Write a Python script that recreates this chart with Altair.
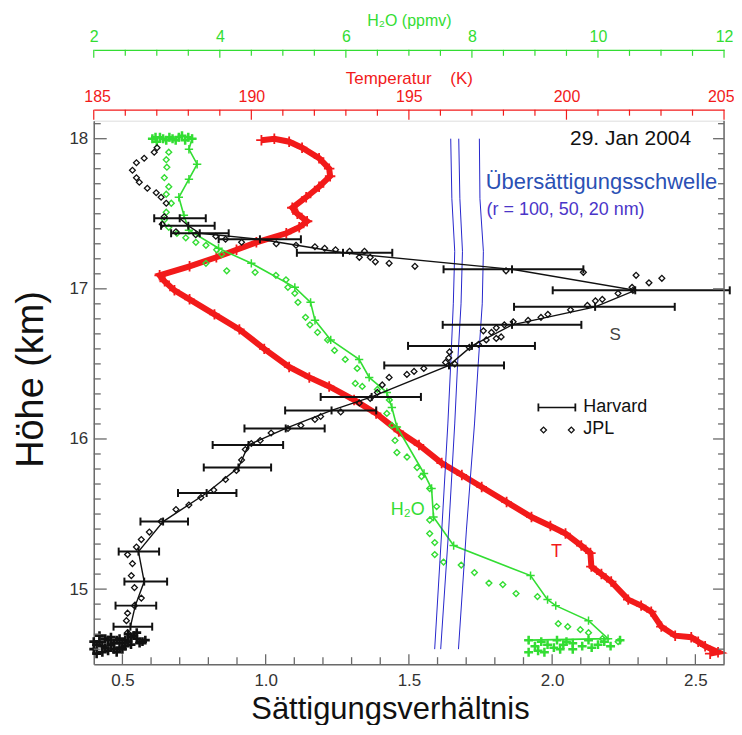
import altair as alt
import pandas as pd

W, H = 632, 545
FONT = "Liberation Sans"
RED = "#f21a1a"
GREEN = "#33dd33"
BLACK = "#111111"
GRAY = "#6a6a6a"
BLUE = "#2626cc"
PLUS = "M-1,0L1,0M0,-1L0,1"
VBAR = "M0,-1L0,1"

# ---------------- data ----------------
# JPL saturation ratio (S, km)
jpl_sat = [(0.621,17.94),(0.611,17.91),(0.576,17.87),(0.549,17.84),(0.535,17.79),(0.549,17.74),
           (0.559,17.71),(0.587,17.67),(0.618,17.64),(0.635,17.61),(0.653,17.57),(0.646,17.48),
           (0.639,17.43),(0.687,17.38),(0.756,17.36),(0.826,17.35),(0.860,17.33),(0.916,17.31),
           (1.037,17.30),(1.106,17.29),(1.172,17.28),(1.206,17.27),(1.244,17.26),(1.293,17.25),
           (1.345,17.25),(1.327,17.21),(1.365,17.21),(1.383,17.18),(1.431,17.17),(1.521,17.15),
           (1.839,17.12),(2.109,17.11),(2.293,17.09),(2.338,17.04),(2.383,17.07),(2.279,17.01),
           (2.282,16.99),(2.230,16.97),(2.175,16.93),(2.151,16.92),(2.123,16.89),(2.064,16.86),
           (1.985,16.83),(1.961,16.81),(1.916,16.79),(1.864,16.78),(1.833,16.76),(1.805,16.74),
           (1.788,16.71),(1.760,16.72),(1.822,16.68),(1.805,16.67),(1.770,16.66),(1.743,16.63),
           (1.711,16.61),(1.642,16.58),(1.639,16.54),(1.628,16.51),(1.660,16.50),(1.552,16.47),
           (1.518,16.45),(1.493,16.43),(1.431,16.41),(1.407,16.36),(1.390,16.31),(1.365,16.27),
           (1.327,16.24),(1.262,16.18),(1.192,16.15),(1.172,16.13),(1.123,16.09),(1.078,16.07),
           (1.019,16.04),(0.981,15.99),(0.950,15.97),(0.929,15.93),(0.916,15.86),(0.898,15.79),
           (0.860,15.73),(0.819,15.66),(0.774,15.61),(0.732,15.56),(0.687,15.53),(0.635,15.45),
           (0.594,15.38),(0.566,15.33),(0.549,15.28),(0.518,15.23),(0.535,15.17),(0.531,15.09),
           (0.542,15.01),(0.566,14.94),(0.542,14.89),(0.518,14.84),(0.514,14.79),(0.518,14.71)]

# Harvard saturation ratio (center, km, low, high)
harvard_sat = [(0.70,17.47,0.611,0.791),(0.73,17.42,0.635,0.822),(0.77,17.37,0.670,0.871),
               (0.98,17.33,0.836,1.123),(1.27,17.24,1.109,1.442),(1.86,17.13,1.621,2.109),
               (2.29,16.99,2.002,2.62),(2.15,16.88,1.867,2.428),(1.86,16.76,1.618,2.102),
               (1.72,16.62,1.497,1.940),(1.64,16.49,1.414,1.832),(1.37,16.28,1.192,1.542),
               (1.23,16.19,1.068,1.386),(1.07,16.07,0.926,1.206),(0.94,15.96,0.815,1.061),
               (0.905,15.81,0.784,1.019),(0.794,15.64,0.694,0.898),(0.642,15.45,0.563,0.729),
               (0.556,15.25,0.487,0.628),(0.576,15.05,0.507,0.656),(0.545,14.89,0.476,0.618),
               (0.528,14.75,0.469,0.604)]

# dense Harvard samples at the bottom of the profile (S, km)
harvard_bottom = [(0.41,14.57),(0.43,14.62),(0.45,14.59),(0.47,14.64),(0.49,14.61),(0.51,14.66),
                  (0.53,14.63),(0.55,14.67),(0.57,14.65),(0.52,14.70),(0.44,14.67),(0.42,14.65),
                  (0.46,14.68),(0.48,14.58),(0.50,14.64),(0.54,14.69),(0.40,14.60),(0.58,14.66),
                  (0.41,14.63),(0.43,14.58),(0.45,14.66),(0.47,14.60),(0.49,14.67),(0.51,14.62),
                  (0.53,14.68),(0.42,14.69),(0.44,14.61),(0.46,14.63),(0.48,14.66),(0.50,14.60),
                  (0.40,14.65),(0.52,14.65),(0.56,14.64),(0.55,14.71)]

# supersaturation thresholds (S, km) for r = 100, 50, 20 nm
thr_100 = [(1.646,18.0),(1.650,17.6),(1.660,17.25),(1.655,16.9),(1.646,16.5),(1.636,16.1),(1.615,15.4),(1.590,14.6)]
thr_50 = [(1.674,18.0),(1.678,17.6),(1.687,17.25),(1.682,16.9),(1.670,16.5),(1.660,16.1),(1.639,15.4),(1.611,14.6)]
thr_20 = [(1.746,18.0),(1.748,17.6),(1.760,17.25),(1.756,16.9),(1.742,16.5),(1.729,16.1),(1.701,15.4),(1.673,14.6)]

# temperature (K, km)
temperature = [(190.32,17.99),(190.73,18.00),(191.20,17.98),(191.61,17.94),(192.15,17.87),(192.47,17.80),
               (192.50,17.75),(192.15,17.68),(191.74,17.61),(191.30,17.54),(191.46,17.50),(191.77,17.45),
               (191.52,17.41),(191.11,17.37),(190.16,17.31),(189.53,17.26),(188.89,17.21),(188.04,17.15),
               (187.09,17.09),(187.25,17.05),(187.56,16.99),(188.04,16.93),(188.83,16.83),(189.62,16.73),
               (190.41,16.60),(191.20,16.48),(191.84,16.41),(192.47,16.35),(193.26,16.26),(193.96,16.17),
               (194.68,16.05),(195.32,15.96),(196.04,15.84),(196.68,15.76),(197.31,15.68),(198.10,15.58),
               (198.89,15.48),(199.49,15.42),(199.97,15.37),(200.47,15.29),(200.76,15.24),(200.79,15.15),
               (201.11,15.10),(201.42,15.05),(201.96,14.93),(202.37,14.89),(202.69,14.85),(203.01,14.75),
               (203.45,14.69),(203.96,14.68),(204.18,14.65),(204.40,14.62),(204.81,14.58),(204.56,14.57)]

# H2O Harvard (ppmv, km)
h2o_harvard = [(3.56,18.00),(3.51,17.93),(3.64,17.83),(3.51,17.73),(3.35,17.61),(3.43,17.49),(3.51,17.39),
               (3.98,17.27),(4.50,17.17),(5.19,17.01),(5.44,16.91),(5.51,16.79),(5.76,16.66),(6.21,16.53),
               (6.37,16.41),(6.65,16.31),(6.73,16.21),(6.81,16.08),(7.24,15.77),(7.36,15.67),(7.39,15.48),
               (7.71,15.29),(8.93,15.09),(9.20,14.93),(9.33,14.89),(9.85,14.79),(10.16,14.67),(8.90,14.66)]
h2o_harvard_top = [(2.93,18.00),(3.05,18.01),(3.15,17.99),(3.25,18.00),(3.35,18.01),(3.45,17.99),
                   (3.56,18.00),(3.00,17.98),(3.40,18.02),(2.98,18.01),(3.10,18.00),(3.20,18.01),
                   (3.30,17.99),(3.50,18.01)]
h2o_harvard_bottom = [(8.90,14.66),(9.10,14.65),(9.35,14.66),(9.60,14.64),(9.85,14.66),(10.10,14.65),
                      (10.35,14.66),(10.20,14.62),(9.90,14.61),(9.60,14.60),(9.30,14.61),(9.05,14.59),
                      (8.90,14.58),(9.45,14.63),(9.75,14.62),(9.00,14.62),(9.20,14.63),(9.50,14.65),
                      (10.00,14.63),(9.15,14.58),(9.40,14.60)]
# H2O JPL (ppmv, km)
h2o_jpl = [(3.19,17.91),(3.15,17.86),(3.16,17.81),(3.12,17.74),(3.19,17.68),(3.15,17.63),(3.23,17.57),
           (3.15,17.51),(3.12,17.46),(3.19,17.41),(3.32,17.37),(3.46,17.34),(3.62,17.31),(3.78,17.29),
           (3.95,17.26),(4.03,17.23),(3.78,17.17),(4.11,17.12),(4.56,17.11),(4.89,17.09),(5.05,17.06),
           (5.08,17.01),(5.19,16.97),(5.24,16.91),(5.36,16.81),(5.43,16.76),(5.55,16.71),(5.71,16.66),
           (5.82,16.59),(5.99,16.53),(6.18,16.47),(6.15,16.37),(6.26,16.35),(6.50,16.33),(6.69,16.26),
           (6.65,16.17),(6.73,16.09),(6.78,15.99),(6.81,15.91),(6.97,15.88),(7.13,15.81),(7.20,15.75),
           (7.33,15.67),(7.44,15.55),(7.33,15.46),(7.33,15.37),(7.41,15.31),(7.41,15.23),(7.55,15.18),
           (7.83,15.16),(8.04,15.11),(8.27,15.04),(8.49,15.03),(8.70,14.97),(9.04,14.95),(9.37,14.77),
           (9.52,14.75),(9.72,14.73),(9.85,14.71),(10.07,14.67),(10.32,14.65)]

# tick values
s_labels = [0.5, 1.0, 1.5, 2.0, 2.5]
s_minor = [0.6,0.7,0.8,0.9,1.1,1.2,1.3,1.4,1.6,1.7,1.8,1.9,2.1,2.2,2.3,2.4]
km_labels = [15, 16, 17, 18]
km_minor = [14.6,14.7,14.8,14.9,15.1,15.2,15.3,15.4,15.5,15.6,15.7,15.8,15.9,16.1,16.2,16.3,16.4,16.5,
            16.6,16.7,16.8,16.9,17.1,17.2,17.3,17.4,17.5,17.6,17.7,17.8,17.9,18.1]
t_labels = [185, 190, 195, 200, 205]
t_minor = [186,187,188,189,191,192,193,194,196,197,198,199,201,202,203,204]
w_labels = [2, 4, 6, 8, 10, 12]
w_minor = [2.5,3,3.5,4.5,5,5.5,6.5,7,7.5,8.5,9,9.5,10.5,11,11.5]

# ---------------- scales & axes ----------------
s_scale = alt.Scale(domain=[0.4, 2.6], nice=False, zero=False)
t_scale = alt.Scale(domain=[185, 205], nice=False, zero=False)
w_scale = alt.Scale(domain=[2, 12], nice=False, zero=False)
y_scale = alt.Scale(domain=[14.5, 18.12], nice=False, zero=False)

y_axis = alt.Axis(values=km_labels, format="d", title="Höhe (km)", ticks=False, tickSize=0, grid=False,
                  domainColor=GRAY, domainWidth=1.5, labelFont=FONT, labelFontSize=17, labelColor="#333333",
                  labelPadding=6, titleFont=FONT, titleFontSize=38, titleFontWeight="normal",
                  titleColor=BLACK, titleX=-51, titleY=259, titleBaseline="alphabetic")
s_axis = alt.Axis(values=s_labels, format=".1f", title="Sättigungsverhältnis", orient="bottom",
                  ticks=False, tickSize=0, grid=False, domainColor=GRAY, domainWidth=1.5,
                  labelFont=FONT, labelFontSize=17, labelColor="#333333", labelPadding=8, labelFlush=False,
                  titleFont=FONT, titleFontSize=31, titleFontWeight="normal", titleColor=BLACK,
                  titleX=297, titleY=54, titleBaseline="alphabetic")
t_axis = alt.Axis(values=t_labels, format="d", title="Temperatur\u00a0\u00a0\u00a0\u00a0(K)", orient="top",
                  offset=11, ticks=False, tickSize=0, grid=False, domainColor=RED, domainWidth=1.2,
                  labelFont=FONT, labelFontSize=16, labelColor=RED, labelPadding=5,
                  labelFlush=True, labelFlushOffset=10,
                  titleFont=FONT, titleFontSize=17, titleFontWeight="normal", titleColor=RED, titlePadding=1)
w_axis = alt.Axis(values=w_labels, format="d", title="H₂O (ppmv)", orient="top",
                  offset=71, ticks=False, tickSize=0, grid=False, domainColor=GREEN, domainWidth=1.2,
                  labelFont=FONT, labelFontSize=16, labelColor=GREEN, labelPadding=5, labelFlush=False,
                  titleFont=FONT, titleFontSize=16, titleFontWeight="normal", titleColor=GREEN, titlePadding=0)


def sX(f):
    return alt.X(f"{f}:Q", scale=s_scale, axis=s_axis)


def tX(f):
    return alt.X(f"{f}:Q", scale=t_scale, axis=t_axis)


def wX(f):
    return alt.X(f"{f}:Q", scale=w_scale, axis=w_axis)


def Yk(f="km"):
    return alt.Y(f"{f}:Q", scale=y_scale, axis=y_axis)


def pts(rows, cols):
    df = pd.DataFrame(rows, columns=cols)
    df["i"] = range(len(df))
    return df


def vals(v):
    return pd.DataFrame({"v": v})


# ---------------- temperature group ----------------
t_df = pts(temperature, ["T", "km"])
red = alt.layer(
    alt.Chart(t_df).mark_line(color=RED, strokeWidth=6).encode(x=tX("T"), y=Yk(), order="i:Q"),
    alt.Chart(t_df).mark_point(shape=PLUS, filled=False, size=110, strokeWidth=1.8, color=RED, opacity=1)
    .encode(x=tX("T"), y=Yk()),
    alt.Chart(vals(t_labels)).mark_rule(color=RED, strokeWidth=1.2)
    .encode(x=tX("v"), y=alt.value(-11), y2=alt.value(-1)),
    alt.Chart(vals(t_minor)).mark_rule(color=RED, strokeWidth=1.2)
    .encode(x=tX("v"), y=alt.value(-11), y2=alt.value(-5)),
)

# ---------------- H2O group ----------------
wh_df = pts(h2o_harvard, ["w", "km"])
wj_df = pts(h2o_jpl, ["w", "km"])
wt_df = pts(h2o_harvard_top + h2o_harvard_bottom, ["w", "km"])
green = alt.layer(
    alt.Chart(wh_df).mark_line(color=GREEN, strokeWidth=1.6).encode(x=wX("w"), y=Yk(), order="i:Q"),
    alt.Chart(wh_df).mark_point(shape=PLUS, filled=False, size=70, strokeWidth=1.5, color=GREEN, opacity=1)
    .encode(x=wX("w"), y=Yk()),
    alt.Chart(wt_df).mark_point(shape=PLUS, filled=False, size=80, strokeWidth=2.5, color=GREEN, opacity=1)
    .encode(x=wX("w"), y=Yk()),
    alt.Chart(wj_df).mark_point(shape="diamond", filled=False, size=34, strokeWidth=1.4, color=GREEN, opacity=1)
    .encode(x=wX("w"), y=Yk()),
    alt.Chart(vals(w_labels)).mark_rule(color=GREEN, strokeWidth=1.2)
    .encode(x=wX("v"), y=alt.value(-71), y2=alt.value(-63)),
    alt.Chart(vals(w_minor)).mark_rule(color=GREEN, strokeWidth=1.2)
    .encode(x=wX("v"), y=alt.value(-71), y2=alt.value(-65)),
)

# ---------------- saturation group ----------------
thr_rows = [(s, k, "100") for s, k in thr_100] + [(s, k, "50") for s, k in thr_50] + [(s, k, "20") for s, k in thr_20]
thr_df = pts(thr_rows, ["S", "km", "r"])
jpl_df = pts(jpl_sat, ["S", "km"])
hv_df = pts(harvard_sat, ["S", "km", "lo", "hi"])
caps_df = pd.DataFrame({"S": list(hv_df["lo"]) + list(hv_df["hi"]) + list(hv_df["S"]),
                        "km": list(hv_df["km"]) * 3})
hb_df = pts(harvard_bottom, ["S", "km"])

leg_line = pd.DataFrame({"S": [1.952, 2.081], "km": [16.21, 16.21]})
leg_dia = pd.DataFrame({"S": [1.970, 2.067], "km": [16.06, 16.06]})


def label(text, s, km, size, color, align="left"):
    df = pd.DataFrame({"S": [s], "km": [km], "t": [text]})
    return alt.Chart(df).mark_text(font=FONT, fontSize=size, color=color, align=align, baseline="middle") \
        .encode(x=sX("S"), y=Yk(), text="t:N")


sat = alt.layer(
    alt.Chart(thr_df).mark_line(color=BLUE, strokeWidth=1).encode(x=sX("S"), y=Yk(), detail="r:N", order="i:Q"),
    alt.Chart(hv_df).mark_line(color=BLACK, strokeWidth=1.4).encode(x=sX("S"), y=Yk(), order="i:Q"),
    alt.Chart(hv_df).mark_rule(color=BLACK, strokeWidth=2).encode(x=sX("lo"), x2="hi:Q", y=Yk()),
    alt.Chart(caps_df).mark_point(shape=VBAR, filled=False, size=64, strokeWidth=2, color=BLACK, opacity=1)
    .encode(x=sX("S"), y=Yk()),
    alt.Chart(jpl_df).mark_point(shape="diamond", filled=False, size=34, strokeWidth=1.3, color=BLACK, opacity=1)
    .encode(x=sX("S"), y=Yk()),
    alt.Chart(hb_df).mark_point(shape=PLUS, filled=False, size=80, strokeWidth=2.6, color=BLACK, opacity=1)
    .encode(x=sX("S"), y=Yk()),
    # legend symbols
    alt.Chart(leg_line).mark_line(color=BLACK, strokeWidth=1.6).encode(x=sX("S"), y=Yk()),
    alt.Chart(leg_line).mark_point(shape=VBAR, filled=False, size=64, strokeWidth=1.8, color=BLACK, opacity=1)
    .encode(x=sX("S"), y=Yk()),
    alt.Chart(leg_dia).mark_point(shape="diamond", filled=False, size=34, strokeWidth=1.3, color=BLACK, opacity=1)
    .encode(x=sX("S"), y=Yk()),
    # texts
    label("29. Jan 2004", 2.485, 18.0, 21, BLACK, "right"),
    label("Übersättigungsschwelle", 1.768, 17.71, 22, "#2a50b4"),
    label("(r = 100, 50, 20 nm)", 1.771, 17.525, 18, "#4a35c8"),
    label("S", 2.22, 16.69, 17, "#444444", "center"),
    label("Harvard", 2.109, 16.21, 18, BLACK),
    label("JPL", 2.109, 16.063, 18, BLACK),
    label("H₂O", 1.437, 15.53, 18, GREEN),
    label("T", 2.015, 15.246, 18, RED, "center"),
    # bottom axis ticks (pointing inward)
    alt.Chart(vals(s_labels)).mark_rule(color=GRAY, strokeWidth=1.3)
    .encode(x=sX("v"), y=alt.value(H), y2=alt.value(H - 10)),
    alt.Chart(vals(s_minor)).mark_rule(color=GRAY, strokeWidth=1.3)
    .encode(x=sX("v"), y=alt.value(H), y2=alt.value(H - 7)),
    # left axis ticks
    alt.Chart(vals(km_labels)).mark_rule(color=GRAY, strokeWidth=1.3)
    .encode(y=Yk("v"), x=alt.value(0), x2=alt.value(13)),
    alt.Chart(vals(km_minor)).mark_rule(color=GRAY, strokeWidth=1.3)
    .encode(y=Yk("v"), x=alt.value(0), x2=alt.value(7)),
    # right frame with ticks
    alt.Chart(vals([0])).mark_rule(color=GRAY, strokeWidth=1.5)
    .encode(x=alt.value(W), y=alt.value(0), y2=alt.value(H)),
    alt.Chart(vals(km_labels)).mark_rule(color=GRAY, strokeWidth=1.3)
    .encode(y=Yk("v"), x=alt.value(W), x2=alt.value(W - 11)),
    alt.Chart(vals(km_minor)).mark_rule(color=GRAY, strokeWidth=1.3)
    .encode(y=Yk("v"), x=alt.value(W), x2=alt.value(W - 6)),
)

chart = alt.layer(red, green, sat).resolve_scale(x="independent").properties(
    width=W, height=H,
    autosize=alt.AutoSizeParams(type="none"),
    padding={"left": 86, "top": 112, "right": 10, "bottom": 60},
).configure_view(strokeWidth=0).configure(background="white")

chart.save("out.html", embed_options={"renderer": "svg", "actions": False})
